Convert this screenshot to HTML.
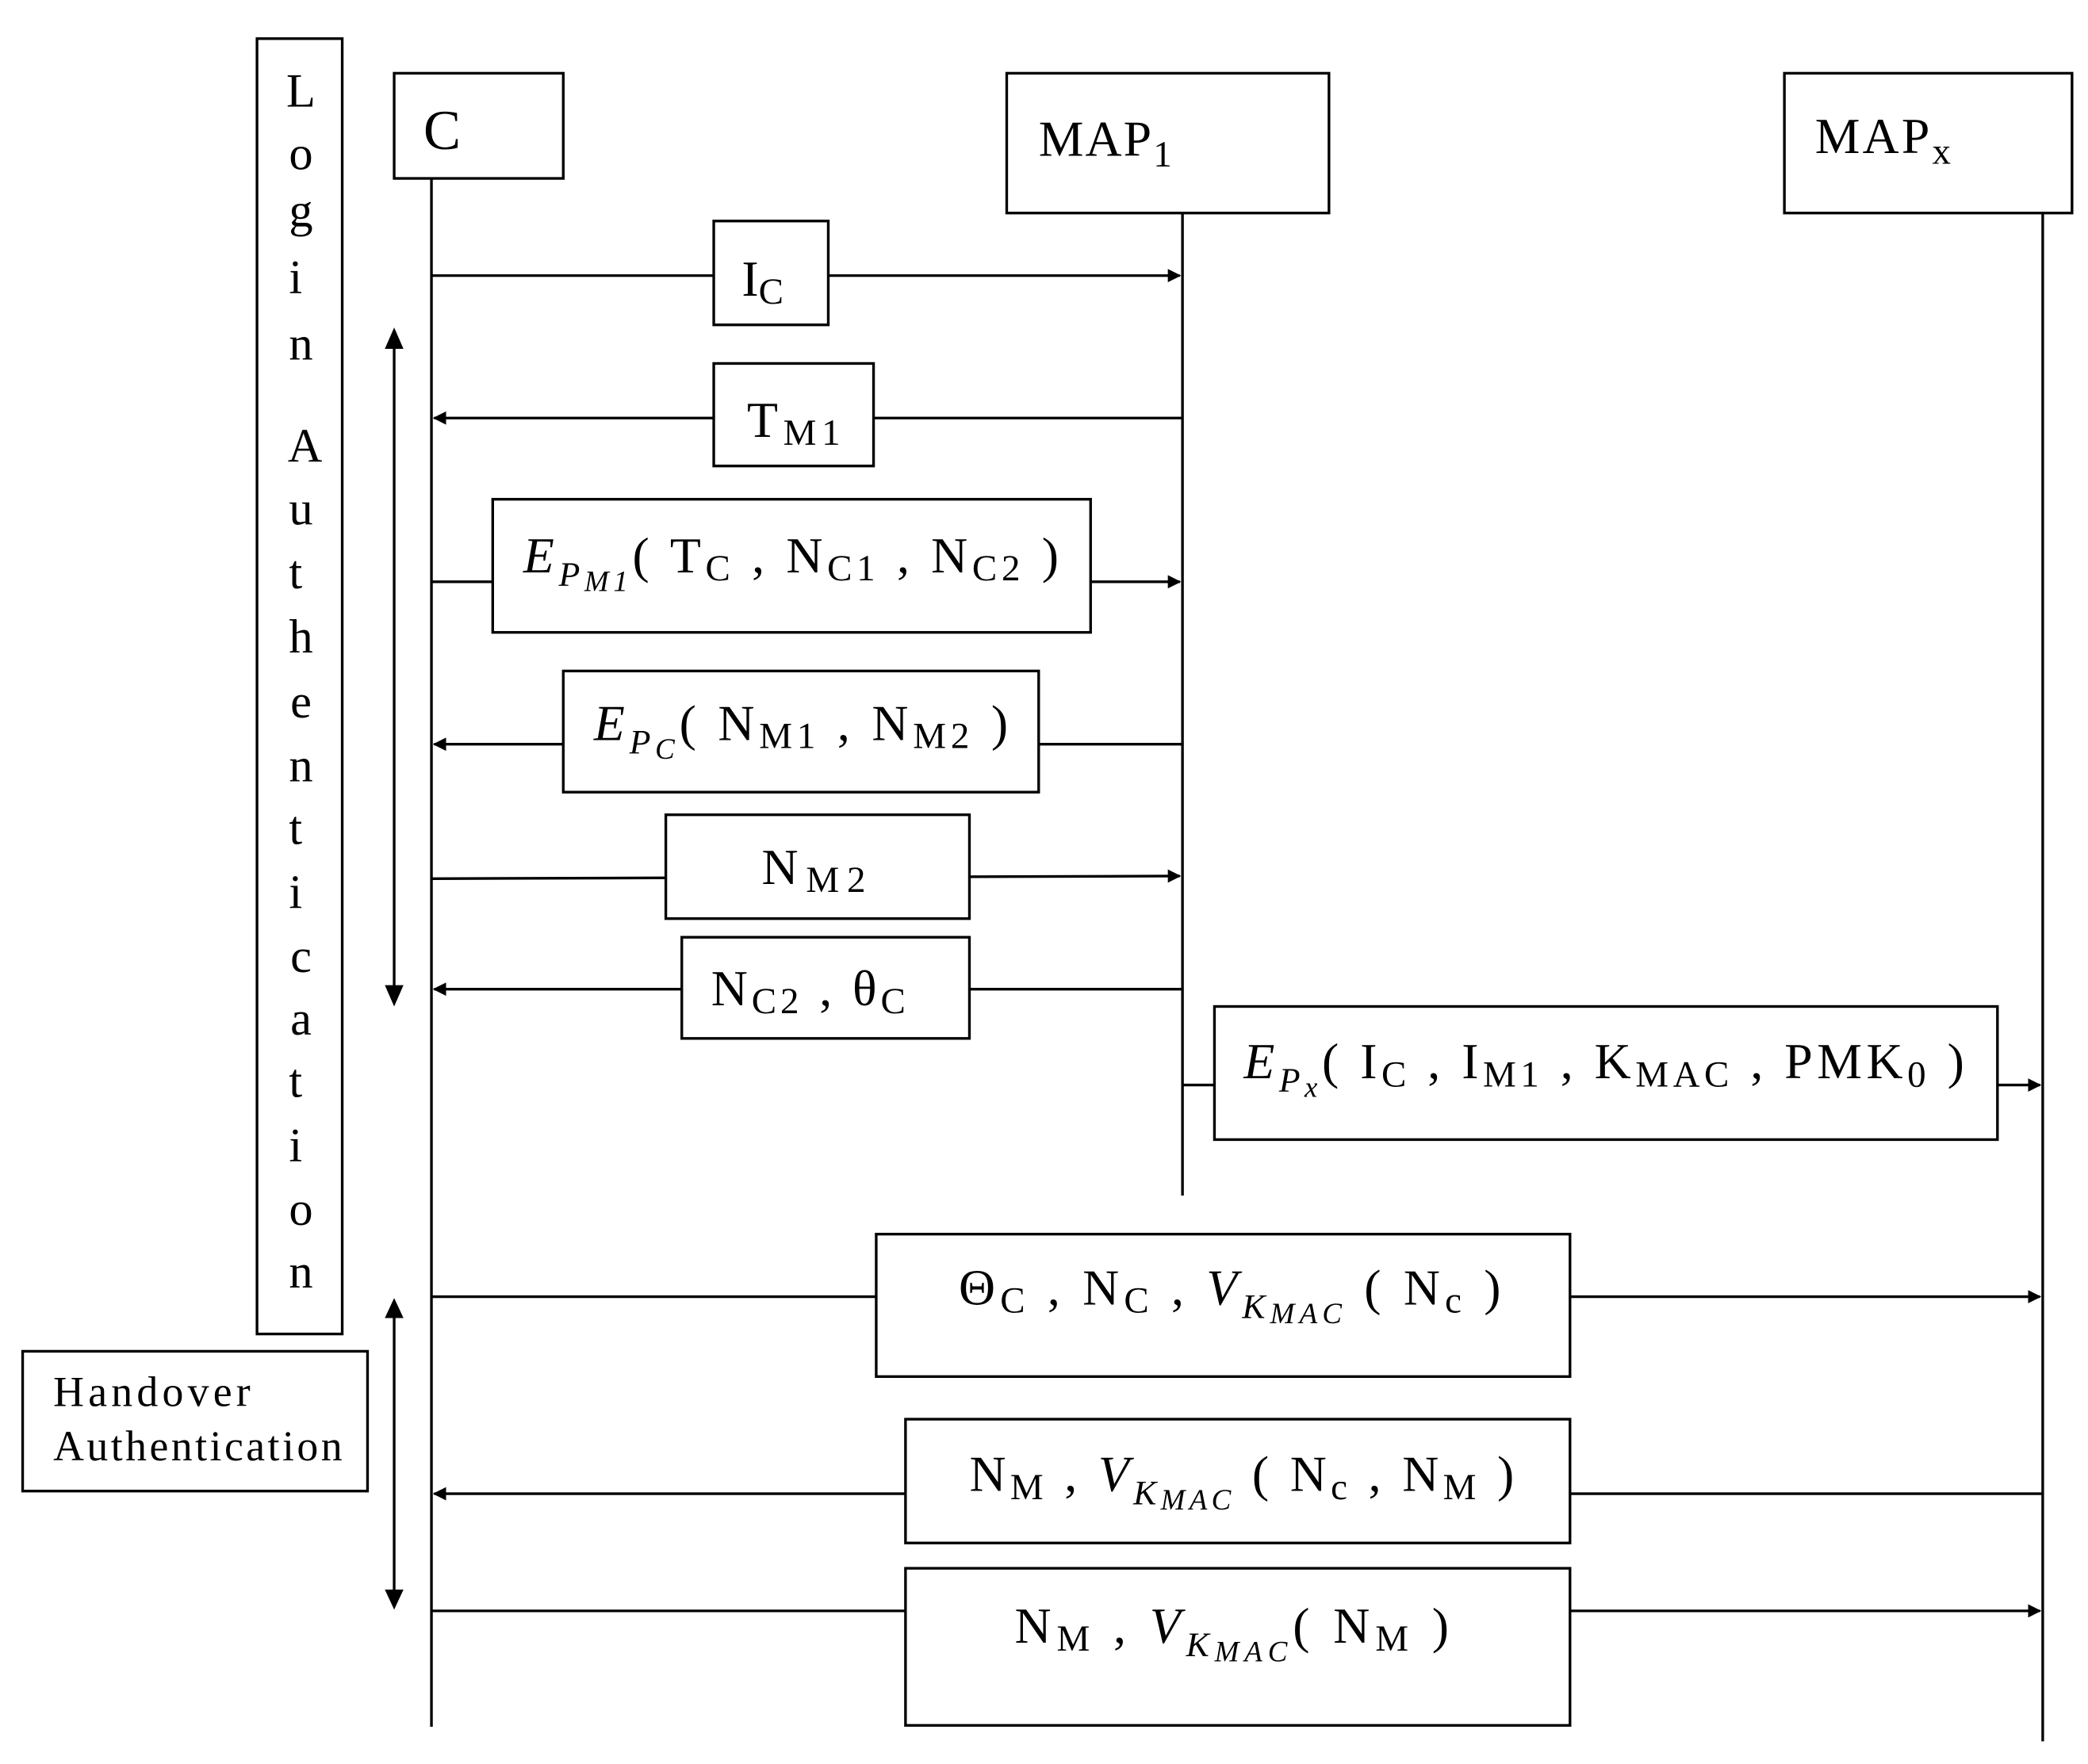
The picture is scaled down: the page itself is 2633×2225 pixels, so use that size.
<!DOCTYPE html>
<html><head><meta charset="utf-8"><style>html,body{margin:0;padding:0;background:#fff}svg{display:block}</style></head>
<body>
<svg width="2633" height="2225" viewBox="0 0 1568 1325" xmlns="http://www.w3.org/2000/svg" font-family="Liberation Serif, serif" font-size="38">
<defs><marker id="a" markerWidth="10" markerHeight="10" refX="9" refY="5" orient="auto" markerUnits="userSpaceOnUse"><path d="M0,0 L10,5 L0,10 z" fill="#000"/></marker></defs>
<g fill="none" stroke="#000" stroke-width="2">
<rect x="193" y="29" width="64" height="973"/>
<rect x="296" y="55" width="127" height="79"/>
<rect x="756" y="55" width="242" height="105"/>
<rect x="1340" y="55" width="216" height="105"/>
<rect x="17" y="1015" width="259" height="105"/>
<line x1="324" y1="134" x2="324" y2="1297"/>
<line x1="888" y1="160" x2="888" y2="898"/>
<line x1="1534" y1="160" x2="1534" y2="1308"/>
<line x1="296" y1="256" x2="296" y2="745"/>
<line x1="296" y1="985" x2="296" y2="1200"/>
<line x1="324" y1="207" x2="886" y2="207" marker-end="url(#a)"/>
<line x1="888" y1="314" x2="326" y2="314" marker-end="url(#a)"/>
<line x1="324" y1="437" x2="886" y2="437" marker-end="url(#a)"/>
<line x1="888" y1="559" x2="326" y2="559" marker-end="url(#a)"/>
<line x1="324" y1="660" x2="886" y2="658" marker-end="url(#a)"/>
<line x1="888" y1="743" x2="326" y2="743" marker-end="url(#a)"/>
<line x1="888" y1="815" x2="1532" y2="815" marker-end="url(#a)"/>
<line x1="324" y1="974" x2="1532" y2="974" marker-end="url(#a)"/>
<line x1="1534" y1="1122" x2="326" y2="1122" marker-end="url(#a)"/>
<line x1="324" y1="1210" x2="1532" y2="1210" marker-end="url(#a)"/>
</g>
<g fill="#000">
<path d="M289,262 L303,262 L296,246 z"/><path d="M289,740 L303,740 L296,756 z"/>
<path d="M289,990 L303,990 L296,975 z"/><path d="M289,1194 L303,1194 L296,1209 z"/>
</g>
<g fill="#fff" stroke="#000" stroke-width="2">
<rect x="536" y="166" width="86" height="78"/>
<rect x="536" y="273" width="120" height="77"/>
<rect x="370" y="375" width="449" height="100"/>
<rect x="423" y="504" width="357" height="91"/>
<rect x="500" y="612" width="228" height="78"/>
<rect x="512" y="704" width="216" height="76"/>
<rect x="912" y="756" width="588" height="100"/>
<rect x="658" y="927" width="521" height="107"/>
<rect x="680" y="1066" width="499" height="93"/>
<rect x="680" y="1178" width="499" height="118"/>
</g>
<g fill="#000" text-anchor="middle" font-size="36">
<text x="226" y="80">L</text><text x="226" y="127">o</text><text x="226" y="170">g</text><text x="222" y="220">i</text><text x="226" y="270">n</text>
<text x="229" y="347">A</text><text x="226" y="394">u</text><text x="222" y="442">t</text><text x="226" y="490">h</text><text x="226" y="539">e</text><text x="226" y="587">n</text><text x="222" y="634">t</text><text x="222" y="682">i</text><text x="226" y="730">c</text><text x="226" y="777">a</text><text x="222" y="824">t</text><text x="222" y="872">i</text><text x="226" y="920">o</text><text x="226" y="967">n</text>
</g>
<g fill="#000">
<text x="318" y="112" font-size="42">C</text>
<text x="780" y="117" textLength="100">MAP<tspan font-size="28" dy="8">1</tspan></text>
<text x="1363" y="115" textLength="102">MAP<tspan font-size="28" dy="8">x</tspan></text>
<text x="40" y="1056" font-size="32" textLength="148">Handover</text>
<text x="40" y="1097" font-size="32" textLength="217">Authentication</text>
<text x="557" y="222">I<tspan font-size="28" dy="6">C</tspan></text>
<text x="561" y="328" textLength="70">T<tspan font-size="28" dy="6">M1</tspan></text>
<text x="393" y="430" textLength="402"><tspan font-style="italic">E</tspan><tspan font-style="italic" font-size="26" dy="10">P</tspan><tspan font-style="italic" font-size="22" dy="4">M1</tspan><tspan dy="-14">( T</tspan><tspan font-size="28" dy="6">C</tspan><tspan dy="-6"> , N</tspan><tspan font-size="28" dy="6">C1</tspan><tspan dy="-6"> , N</tspan><tspan font-size="28" dy="6">C2</tspan><tspan dy="-6"> )</tspan></text>
<text x="446" y="556" textLength="311"><tspan font-style="italic">E</tspan><tspan font-style="italic" font-size="26" dy="10">P</tspan><tspan font-style="italic" font-size="22" dy="4">C</tspan><tspan dy="-14">( N</tspan><tspan font-size="28" dy="6">M1</tspan><tspan dy="-6"> , N</tspan><tspan font-size="28" dy="6">M2</tspan><tspan dy="-6"> )</tspan></text>
<text x="572" y="664" textLength="78">N<tspan font-size="28" dy="6">M2</tspan></text>
<text x="534" y="755" textLength="146">N<tspan font-size="28" dy="6">C2</tspan><tspan dy="-6"> , θ</tspan><tspan font-size="28" dy="6">C</tspan></text>
<text x="934" y="810" textLength="541"><tspan font-style="italic">E</tspan><tspan font-style="italic" font-size="26" dy="10">P</tspan><tspan font-style="italic" font-size="22" dy="4">x</tspan><tspan dy="-14">( I</tspan><tspan font-size="28" dy="6">C</tspan><tspan dy="-6"> , I</tspan><tspan font-size="28" dy="6">M1</tspan><tspan dy="-6"> , K</tspan><tspan font-size="28" dy="6">MAC</tspan><tspan dy="-6"> , PMK</tspan><tspan font-size="28" dy="6">0</tspan><tspan dy="-6"> )</tspan></text>
<text x="720" y="980" textLength="407">Θ<tspan font-size="28" dy="6">C</tspan><tspan dy="-6"> , N</tspan><tspan font-size="28" dy="6">C</tspan><tspan dy="-6"> , </tspan><tspan font-style="italic">V</tspan><tspan font-style="italic" font-size="26" dy="10">K</tspan><tspan font-style="italic" font-size="22" dy="4">MAC</tspan><tspan dy="-14"> ( N</tspan><tspan font-size="28" dy="6">c</tspan><tspan dy="-6"> )</tspan></text>
<text x="728" y="1120" textLength="409">N<tspan font-size="28" dy="6">M</tspan><tspan dy="-6"> , </tspan><tspan font-style="italic">V</tspan><tspan font-style="italic" font-size="26" dy="10">K</tspan><tspan font-style="italic" font-size="22" dy="4">MAC</tspan><tspan dy="-14"> ( N</tspan><tspan font-size="28" dy="6">c</tspan><tspan dy="-6"> , N</tspan><tspan font-size="28" dy="6">M</tspan><tspan dy="-6"> )</tspan></text>
<text x="762" y="1234" textLength="326">N<tspan font-size="28" dy="6">M</tspan><tspan dy="-6"> , </tspan><tspan font-style="italic">V</tspan><tspan font-style="italic" font-size="26" dy="10">K</tspan><tspan font-style="italic" font-size="22" dy="4">MAC</tspan><tspan dy="-14">( N</tspan><tspan font-size="28" dy="6">M</tspan><tspan dy="-6"> )</tspan></text>
</g>
</svg>
</body></html>
